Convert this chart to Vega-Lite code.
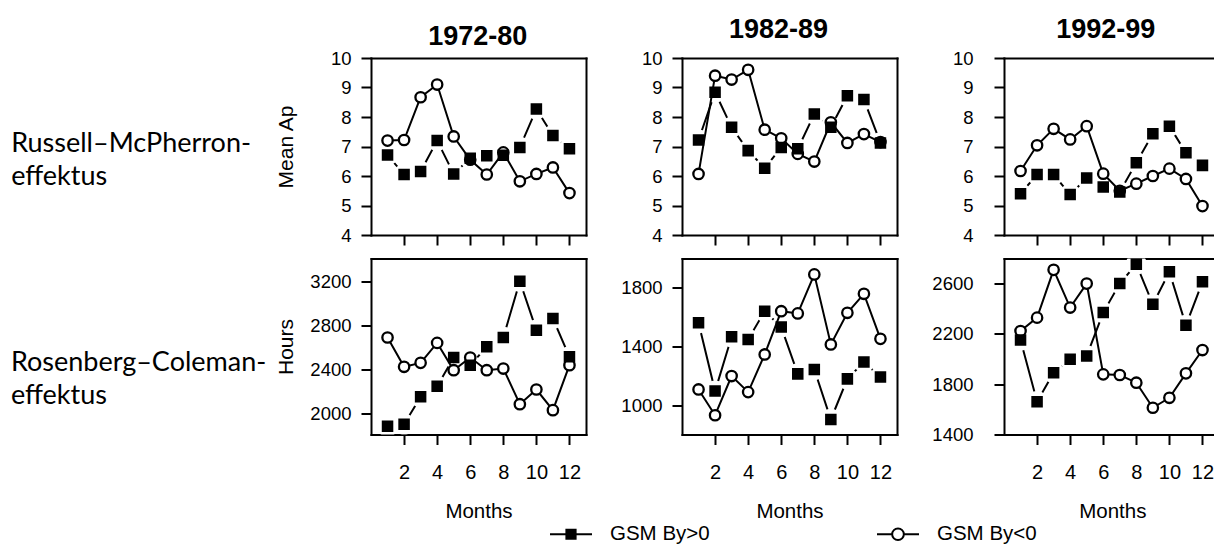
{
"$schema":"https://vega.github.io/schema/vega-lite/v6.json",
"background":"white",
"padding":{"left":10,"top":15,"right":0,"bottom":0},
"config":{
 "view":{"stroke":null},
 "font":"Liberation Sans",
 "axis":{"domainColor":"black","domainWidth":2,"domainCap":"square","tickColor":"black","tickWidth":2,"tickSize":10,"labelColor":"black","labelFont":"Liberation Sans","titleColor":"black","titleFont":"Liberation Sans","titleFontWeight":"normal","grid":false,"zindex":1,"labelFlush":false,"labelOverlap":false,"minExtent":0,"format":"d"},
 "legend":{"title":null,"orient":"none","legendX":189,"legendY":465,"direction":"horizontal","columns":2,"columnPadding":163,"labelOffset":28,"labelFont":"Liberation Sans","labelFontSize":20.5,"labelColor":"black","symbolSize":400,"symbolStrokeWidth":2,"padding":0}
},
"datasets":{
 "p11":[
  {"m":1,"v":7.2,"s":"GSM By<0"},{"m":2,"v":7.22,"s":"GSM By<0"},{"m":3,"v":8.67,"s":"GSM By<0"},{"m":4,"v":9.1,"s":"GSM By<0"},{"m":5,"v":7.34,"s":"GSM By<0"},{"m":6,"v":6.55,"s":"GSM By<0"},{"m":7,"v":6.05,"s":"GSM By<0"},{"m":8,"v":6.8,"s":"GSM By<0"},{"m":9,"v":5.82,"s":"GSM By<0"},{"m":10,"v":6.07,"s":"GSM By<0"},{"m":11,"v":6.29,"s":"GSM By<0"},{"m":12,"v":5.42,"s":"GSM By<0"},
  {"m":1,"v":6.71,"s":"GSM By>0"},{"m":2,"v":6.05,"s":"GSM By>0"},{"m":3,"v":6.15,"s":"GSM By>0"},{"m":4,"v":7.2,"s":"GSM By>0"},{"m":5,"v":6.07,"s":"GSM By>0"},{"m":6,"v":6.6,"s":"GSM By>0"},{"m":7,"v":6.69,"s":"GSM By>0"},{"m":8,"v":6.7,"s":"GSM By>0"},{"m":9,"v":6.97,"s":"GSM By>0"},{"m":10,"v":8.27,"s":"GSM By>0"},{"m":11,"v":7.37,"s":"GSM By>0"},{"m":12,"v":6.92,"s":"GSM By>0"}],
 "p12":[
  {"m":1,"v":6.07,"s":"GSM By<0"},{"m":2,"v":9.4,"s":"GSM By<0"},{"m":3,"v":9.27,"s":"GSM By<0"},{"m":4,"v":9.6,"s":"GSM By<0"},{"m":5,"v":7.57,"s":"GSM By<0"},{"m":6,"v":7.28,"s":"GSM By<0"},{"m":7,"v":6.75,"s":"GSM By<0"},{"m":8,"v":6.49,"s":"GSM By<0"},{"m":9,"v":7.82,"s":"GSM By<0"},{"m":10,"v":7.12,"s":"GSM By<0"},{"m":11,"v":7.42,"s":"GSM By<0"},{"m":12,"v":7.15,"s":"GSM By<0"},
  {"m":1,"v":7.22,"s":"GSM By>0"},{"m":2,"v":8.84,"s":"GSM By>0"},{"m":3,"v":7.65,"s":"GSM By>0"},{"m":4,"v":6.86,"s":"GSM By>0"},{"m":5,"v":6.26,"s":"GSM By>0"},{"m":6,"v":6.97,"s":"GSM By>0"},{"m":7,"v":6.92,"s":"GSM By>0"},{"m":8,"v":8.1,"s":"GSM By>0"},{"m":9,"v":7.65,"s":"GSM By>0"},{"m":10,"v":8.72,"s":"GSM By>0"},{"m":11,"v":8.59,"s":"GSM By>0"},{"m":12,"v":7.12,"s":"GSM By>0"}],
 "p13":[
  {"m":1,"v":6.17,"s":"GSM By<0"},{"m":2,"v":7.04,"s":"GSM By<0"},{"m":3,"v":7.6,"s":"GSM By<0"},{"m":4,"v":7.24,"s":"GSM By<0"},{"m":5,"v":7.69,"s":"GSM By<0"},{"m":6,"v":6.08,"s":"GSM By<0"},{"m":7,"v":5.5,"s":"GSM By<0"},{"m":8,"v":5.74,"s":"GSM By<0"},{"m":9,"v":6.0,"s":"GSM By<0"},{"m":10,"v":6.25,"s":"GSM By<0"},{"m":11,"v":5.9,"s":"GSM By<0"},{"m":12,"v":4.98,"s":"GSM By<0"},
  {"m":1,"v":5.4,"s":"GSM By>0"},{"m":2,"v":6.05,"s":"GSM By>0"},{"m":3,"v":6.05,"s":"GSM By>0"},{"m":4,"v":5.37,"s":"GSM By>0"},{"m":5,"v":5.93,"s":"GSM By>0"},{"m":6,"v":5.63,"s":"GSM By>0"},{"m":7,"v":5.46,"s":"GSM By>0"},{"m":8,"v":6.45,"s":"GSM By>0"},{"m":9,"v":7.43,"s":"GSM By>0"},{"m":10,"v":7.69,"s":"GSM By>0"},{"m":11,"v":6.79,"s":"GSM By>0"},{"m":12,"v":6.36,"s":"GSM By>0"}],
 "p21":[
  {"m":1,"v":2693,"s":"GSM By<0"},{"m":2,"v":2426,"s":"GSM By<0"},{"m":3,"v":2462,"s":"GSM By<0"},{"m":4,"v":2644,"s":"GSM By<0"},{"m":5,"v":2395,"s":"GSM By<0"},{"m":6,"v":2511,"s":"GSM By<0"},{"m":7,"v":2395,"s":"GSM By<0"},{"m":8,"v":2410,"s":"GSM By<0"},{"m":9,"v":2085,"s":"GSM By<0"},{"m":10,"v":2219,"s":"GSM By<0"},{"m":11,"v":2031,"s":"GSM By<0"},{"m":12,"v":2441,"s":"GSM By<0"},
  {"m":1,"v":1885,"s":"GSM By>0"},{"m":2,"v":1903,"s":"GSM By>0"},{"m":3,"v":2152,"s":"GSM By>0"},{"m":4,"v":2249,"s":"GSM By>0"},{"m":5,"v":2511,"s":"GSM By>0"},{"m":6,"v":2441,"s":"GSM By>0"},{"m":7,"v":2608,"s":"GSM By>0"},{"m":8,"v":2693,"s":"GSM By>0"},{"m":9,"v":3206,"s":"GSM By>0"},{"m":10,"v":2760,"s":"GSM By>0"},{"m":11,"v":2866,"s":"GSM By>0"},{"m":12,"v":2517,"s":"GSM By>0"}],
 "p22":[
  {"m":1,"v":1109,"s":"GSM By<0"},{"m":2,"v":934,"s":"GSM By<0"},{"m":3,"v":1200,"s":"GSM By<0"},{"m":4,"v":1091,"s":"GSM By<0"},{"m":5,"v":1347,"s":"GSM By<0"},{"m":6,"v":1641,"s":"GSM By<0"},{"m":7,"v":1626,"s":"GSM By<0"},{"m":8,"v":1891,"s":"GSM By<0"},{"m":9,"v":1415,"s":"GSM By<0"},{"m":10,"v":1630,"s":"GSM By<0"},{"m":11,"v":1759,"s":"GSM By<0"},{"m":12,"v":1453,"s":"GSM By<0"},
  {"m":1,"v":1562,"s":"GSM By>0"},{"m":2,"v":1098,"s":"GSM By>0"},{"m":3,"v":1467,"s":"GSM By>0"},{"m":4,"v":1449,"s":"GSM By>0"},{"m":5,"v":1641,"s":"GSM By>0"},{"m":6,"v":1533,"s":"GSM By>0"},{"m":7,"v":1215,"s":"GSM By>0"},{"m":8,"v":1245,"s":"GSM By>0"},{"m":9,"v":905,"s":"GSM By>0"},{"m":10,"v":1181,"s":"GSM By>0"},{"m":11,"v":1295,"s":"GSM By>0"},{"m":12,"v":1193,"s":"GSM By>0"}],
 "p23":[
  {"m":1,"v":2221,"s":"GSM By<0"},{"m":2,"v":2327,"s":"GSM By<0"},{"m":3,"v":2706,"s":"GSM By<0"},{"m":4,"v":2407,"s":"GSM By<0"},{"m":5,"v":2597,"s":"GSM By<0"},{"m":6,"v":1877,"s":"GSM By<0"},{"m":7,"v":1872,"s":"GSM By<0"},{"m":8,"v":1811,"s":"GSM By<0"},{"m":9,"v":1612,"s":"GSM By<0"},{"m":10,"v":1691,"s":"GSM By<0"},{"m":11,"v":1885,"s":"GSM By<0"},{"m":12,"v":2070,"s":"GSM By<0"},
  {"m":1,"v":2150,"s":"GSM By>0"},{"m":2,"v":1660,"s":"GSM By>0"},{"m":3,"v":1890,"s":"GSM By>0"},{"m":4,"v":1996,"s":"GSM By>0"},{"m":5,"v":2023,"s":"GSM By>0"},{"m":6,"v":2367,"s":"GSM By>0"},{"m":7,"v":2597,"s":"GSM By>0"},{"m":8,"v":2751,"s":"GSM By>0"},{"m":9,"v":2433,"s":"GSM By>0"},{"m":10,"v":2690,"s":"GSM By>0"},{"m":11,"v":2266,"s":"GSM By>0"},{"m":12,"v":2611,"s":"GSM By>0"}]
},
"columns":3,
"align":"each",
"bounds":"full",
"spacing":{"row":8.5,"column":34},
"concat":[
 {"data":{"name":"p11"},"width":215,"height":177,
  "title":{"text":["Russell–McPherron-","effektus"],"orient":"left","angle":0,"align":"left","baseline":"middle","anchor":"middle","frame":"group","offset":24.3,"font":"Lato","fontSize":27,"fontWeight":"normal","lineHeight":33,"dy":-2.5,"color":"black"},
  "layer":[
   {"transform":[{"filter":"datum.s === 'GSM By>0'"}],"mark":{"type":"line","color":"black","strokeWidth":2},
    "encoding":{"x":{"field":"m","type":"quantitative","scale":{"domain":[0,13],"nice":false,"zero":false},"axis":{"orient":"bottom","values":[2,4,6,8,10,12],"labels":false,"title":null}},
     "y":{"field":"v","type":"quantitative","scale":{"domain":[4,10],"nice":false,"zero":false},"axis":{"orient":"left","values":[4,5,6,7,8,9,10],"labelFontSize":18.5,"labelPadding":10,"title":"Mean Ap","titleFontSize":21,"titlePadding":34.7,"minExtent":40,"maxExtent":40}}}},
   {"transform":[{"filter":"datum.s === 'GSM By>0'"}],"mark":{"type":"point","shape":"circle","filled":true,"color":"white","opacity":1,"size":452,"clip":true},
    "encoding":{"x":{"field":"m","type":"quantitative","axis":{"orient":"top","ticks":false,"labels":false,"title":"1972-80","titleFont":"Liberation Sans","titleFontSize":27,"titleFontWeight":"bold","titleX":106.3,"titleY":-14,"titleAlign":"center","titleBaseline":"alphabetic"}},
     "y":{"field":"v","type":"quantitative","axis":{"orient":"right","ticks":false,"labels":false,"title":null}}}},
   {"transform":[{"filter":"datum.s === 'GSM By<0'"}],"mark":{"type":"line","color":"black","strokeWidth":2},
    "encoding":{"x":{"field":"m","type":"quantitative","axis":null},"y":{"field":"v","type":"quantitative","axis":null}}},
   {"transform":[{"filter":"datum.s === 'GSM By<0'"}],"mark":{"type":"point","shape":"circle","filled":true,"fill":"white","stroke":"black","strokeWidth":2.3,"size":108,"opacity":1},
    "encoding":{"x":{"field":"m","type":"quantitative","axis":null},"y":{"field":"v","type":"quantitative","axis":null}}},
   {"transform":[{"filter":"datum.s === 'GSM By>0'"}],"mark":{"type":"point","shape":"square","filled":true,"fill":"black","stroke":"black","strokeWidth":2.3,"size":85,"opacity":1},
    "encoding":{"x":{"field":"m","type":"quantitative","axis":null},"y":{"field":"v","type":"quantitative","axis":null}}},
   {"transform":[{"filter":"false"}],"mark":{"type":"point","filled":true,"stroke":"black","strokeWidth":2,"opacity":1},
    "encoding":{"x":{"field":"m","type":"quantitative","axis":null},"y":{"field":"v","type":"quantitative","axis":null},
     "shape":{"field":"s","type":"nominal","scale":{"domain":["GSM By>0","GSM By<0"],"range":["M-2.1,0H2.1M-0.46,-0.46H0.46V0.46H-0.46Z","M-2.1,0H-0.585M0.585,0H2.1M-0.585,0A0.585,0.585,0,1,0,0.585,0A0.585,0.585,0,1,0,-0.585,0Z"]},"legend":{"encode":{"symbols":{"stroke":{"value":"black"},"strokeWidth":{"value":2},"opacity":{"value":1}}}}},
     "fill":{"field":"s","type":"nominal","scale":{"domain":["GSM By>0","GSM By<0"],"range":["black","white"]},"legend":{"encode":{"symbols":{"stroke":{"value":"black"},"strokeWidth":{"value":2},"opacity":{"value":1}}}}}}}
  ],
  "resolve":{"axis":{"x":"independent","y":"independent"}}},
 {"data":{"name":"p12"},"width":215,"height":177,
  "layer":[
   {"transform":[{"filter":"datum.s === 'GSM By>0'"}],"mark":{"type":"line","color":"black","strokeWidth":2},
    "encoding":{"x":{"field":"m","type":"quantitative","scale":{"domain":[0,13],"nice":false,"zero":false},"axis":{"orient":"bottom","values":[2,4,6,8,10,12],"labels":false,"title":null}},
     "y":{"field":"v","type":"quantitative","scale":{"domain":[4,10],"nice":false,"zero":false},"axis":{"orient":"left","values":[4,5,6,7,8,9,10],"labelFontSize":18.5,"labelPadding":10,"title":null}}}},
   {"transform":[{"filter":"datum.s === 'GSM By>0'"}],"mark":{"type":"point","shape":"circle","filled":true,"color":"white","opacity":1,"size":452,"clip":true},
    "encoding":{"x":{"field":"m","type":"quantitative","axis":{"orient":"top","ticks":false,"labels":false,"title":"1982-89","titleFont":"Liberation Sans","titleFontSize":27,"titleFontWeight":"bold","titleX":96,"titleY":-21,"titleAlign":"center","titleBaseline":"alphabetic"}},
     "y":{"field":"v","type":"quantitative","axis":{"orient":"right","ticks":false,"labels":false,"title":null}}}},
   {"transform":[{"filter":"datum.s === 'GSM By<0'"}],"mark":{"type":"line","color":"black","strokeWidth":2},
    "encoding":{"x":{"field":"m","type":"quantitative","axis":null},"y":{"field":"v","type":"quantitative","axis":null}}},
   {"transform":[{"filter":"datum.s === 'GSM By<0'"}],"mark":{"type":"point","shape":"circle","filled":true,"fill":"white","stroke":"black","strokeWidth":2.3,"size":108,"opacity":1},
    "encoding":{"x":{"field":"m","type":"quantitative","axis":null},"y":{"field":"v","type":"quantitative","axis":null}}},
   {"transform":[{"filter":"datum.s === 'GSM By>0'"}],"mark":{"type":"point","shape":"square","filled":true,"fill":"black","stroke":"black","strokeWidth":2.3,"size":85,"opacity":1},
    "encoding":{"x":{"field":"m","type":"quantitative","axis":null},"y":{"field":"v","type":"quantitative","axis":null}}}
  ],
  "resolve":{"axis":{"x":"independent","y":"independent"}}},
 {"data":{"name":"p13"},"width":209,"height":177,
  "layer":[
   {"transform":[{"filter":"datum.s === 'GSM By>0'"}],"mark":{"type":"line","color":"black","strokeWidth":2},
    "encoding":{"x":{"field":"m","type":"quantitative","scale":{"domain":[0,12.636],"nice":false,"zero":false},"axis":{"orient":"bottom","values":[2,4,6,8,10,12],"labels":false,"title":null}},
     "y":{"field":"v","type":"quantitative","scale":{"domain":[4,10],"nice":false,"zero":false},"axis":{"orient":"left","values":[4,5,6,7,8,9,10],"labelFontSize":18.5,"labelPadding":21,"title":null}}}},
   {"transform":[{"filter":"datum.s === 'GSM By>0'"}],"mark":{"type":"point","shape":"circle","filled":true,"color":"white","opacity":1,"size":452,"clip":true},
    "encoding":{"x":{"field":"m","type":"quantitative","axis":{"orient":"top","ticks":false,"labels":false,"title":"1992-99","titleFont":"Liberation Sans","titleFontSize":27,"titleFontWeight":"bold","titleX":101.3,"titleY":-21,"titleAlign":"center","titleBaseline":"alphabetic"}},
     "y":{"field":"v","type":"quantitative","axis":null}}},
   {"transform":[{"filter":"datum.s === 'GSM By<0'"}],"mark":{"type":"line","color":"black","strokeWidth":2},
    "encoding":{"x":{"field":"m","type":"quantitative","axis":null},"y":{"field":"v","type":"quantitative","axis":null}}},
   {"transform":[{"filter":"datum.s === 'GSM By<0'"}],"mark":{"type":"point","shape":"circle","filled":true,"fill":"white","stroke":"black","strokeWidth":2.3,"size":108,"opacity":1},
    "encoding":{"x":{"field":"m","type":"quantitative","axis":null},"y":{"field":"v","type":"quantitative","axis":null}}},
   {"transform":[{"filter":"datum.s === 'GSM By>0'"}],"mark":{"type":"point","shape":"square","filled":true,"fill":"black","stroke":"black","strokeWidth":2.3,"size":85,"opacity":1},
    "encoding":{"x":{"field":"m","type":"quantitative","axis":null},"y":{"field":"v","type":"quantitative","axis":null}}}
  ],
  "resolve":{"axis":{"x":"independent","y":"independent"}}},
 {"data":{"name":"p21"},"width":215,"height":176,
  "title":{"text":["Rosenberg–Coleman-","effektus"],"orient":"left","angle":0,"align":"left","baseline":"middle","anchor":"middle","frame":"group","offset":9,"font":"Lato","fontSize":27,"fontWeight":"normal","lineHeight":33,"dy":16,"color":"black"},
  "layer":[
   {"transform":[{"filter":"datum.s === 'GSM By>0'"}],"mark":{"type":"line","color":"black","strokeWidth":2},
    "encoding":{"x":{"field":"m","type":"quantitative","scale":{"domain":[0,13],"nice":false,"zero":false},"axis":{"orient":"bottom","values":[2,4,6,8,10,12],"labels":true,"labelFontSize":20,"labelPadding":17.5,"title":"Months","titleFontSize":20.5,"titlePadding":21.5,"minExtent":45,"maxExtent":45}},
     "y":{"field":"v","type":"quantitative","scale":{"domain":[1809,3413],"nice":false,"zero":false},"axis":{"orient":"left","values":[2000,2400,2800,3200],"labelFontSize":18.5,"labelPadding":10,"title":"Hours","titleFontSize":21,"titlePadding":34.7,"minExtent":40,"maxExtent":40}}}},
   {"transform":[{"filter":"datum.s === 'GSM By>0'"}],"mark":{"type":"point","shape":"circle","filled":true,"color":"white","opacity":1,"size":452,"clip":true},
    "encoding":{"x":{"field":"m","type":"quantitative","axis":{"orient":"top","ticks":false,"labels":false,"title":null}},
     "y":{"field":"v","type":"quantitative","axis":{"orient":"right","ticks":false,"labels":false,"title":null}}}},
   {"transform":[{"filter":"datum.s === 'GSM By<0'"}],"mark":{"type":"line","color":"black","strokeWidth":2},
    "encoding":{"x":{"field":"m","type":"quantitative","axis":null},"y":{"field":"v","type":"quantitative","axis":null}}},
   {"transform":[{"filter":"datum.s === 'GSM By<0'"}],"mark":{"type":"point","shape":"circle","filled":true,"fill":"white","stroke":"black","strokeWidth":2.3,"size":108,"opacity":1},
    "encoding":{"x":{"field":"m","type":"quantitative","axis":null},"y":{"field":"v","type":"quantitative","axis":null}}},
   {"transform":[{"filter":"datum.s === 'GSM By>0'"}],"mark":{"type":"point","shape":"square","filled":true,"fill":"black","stroke":"black","strokeWidth":2.3,"size":85,"opacity":1},
    "encoding":{"x":{"field":"m","type":"quantitative","axis":null},"y":{"field":"v","type":"quantitative","axis":null}}}
  ],
  "resolve":{"axis":{"x":"independent","y":"independent"}}},
 {"data":{"name":"p22"},"width":215,"height":176,
  "layer":[
   {"transform":[{"filter":"datum.s === 'GSM By>0'"}],"mark":{"type":"line","color":"black","strokeWidth":2},
    "encoding":{"x":{"field":"m","type":"quantitative","scale":{"domain":[0,13],"nice":false,"zero":false},"axis":{"orient":"bottom","values":[2,4,6,8,10,12],"labels":true,"labelFontSize":20,"labelPadding":17.5,"title":"Months","titleFontSize":20.5,"titlePadding":21.5,"minExtent":45,"maxExtent":45}},
     "y":{"field":"v","type":"quantitative","scale":{"domain":[803,1999],"nice":false,"zero":false},"axis":{"orient":"left","values":[1000,1400,1800],"labelFontSize":18.5,"labelPadding":10,"title":null}}}},
   {"transform":[{"filter":"datum.s === 'GSM By>0'"}],"mark":{"type":"point","shape":"circle","filled":true,"color":"white","opacity":1,"size":452,"clip":true},
    "encoding":{"x":{"field":"m","type":"quantitative","axis":{"orient":"top","ticks":false,"labels":false,"title":null}},
     "y":{"field":"v","type":"quantitative","axis":{"orient":"right","ticks":false,"labels":false,"title":null}}}},
   {"transform":[{"filter":"datum.s === 'GSM By<0'"}],"mark":{"type":"line","color":"black","strokeWidth":2},
    "encoding":{"x":{"field":"m","type":"quantitative","axis":null},"y":{"field":"v","type":"quantitative","axis":null}}},
   {"transform":[{"filter":"datum.s === 'GSM By<0'"}],"mark":{"type":"point","shape":"circle","filled":true,"fill":"white","stroke":"black","strokeWidth":2.3,"size":108,"opacity":1},
    "encoding":{"x":{"field":"m","type":"quantitative","axis":null},"y":{"field":"v","type":"quantitative","axis":null}}},
   {"transform":[{"filter":"datum.s === 'GSM By>0'"}],"mark":{"type":"point","shape":"square","filled":true,"fill":"black","stroke":"black","strokeWidth":2.3,"size":85,"opacity":1},
    "encoding":{"x":{"field":"m","type":"quantitative","axis":null},"y":{"field":"v","type":"quantitative","axis":null}}}
  ],
  "resolve":{"axis":{"x":"independent","y":"independent"}}},
 {"data":{"name":"p23"},"width":209,"height":176,
  "layer":[
   {"transform":[{"filter":"datum.s === 'GSM By>0'"}],"mark":{"type":"line","color":"black","strokeWidth":2},
    "encoding":{"x":{"field":"m","type":"quantitative","scale":{"domain":[0,12.636],"nice":false,"zero":false},"axis":{"orient":"bottom","values":[2,4,6,8,10,12],"labels":true,"labelFontSize":20,"labelPadding":17.5,"title":"Months","titleFontSize":20.5,"titlePadding":21.5,"titleX":108.3,"minExtent":45,"maxExtent":45}},
     "y":{"field":"v","type":"quantitative","scale":{"domain":[1400,2796],"nice":false,"zero":false},"axis":{"orient":"left","values":[1400,1800,2200,2600],"labelFontSize":18.5,"labelPadding":21,"title":null}}}},
   {"transform":[{"filter":"datum.s === 'GSM By>0'"}],"mark":{"type":"point","shape":"circle","filled":true,"color":"white","opacity":1,"size":452,"clip":true},
    "encoding":{"x":{"field":"m","type":"quantitative","axis":{"orient":"top","ticks":false,"labels":false,"title":null}},
     "y":{"field":"v","type":"quantitative","axis":null}}},
   {"transform":[{"filter":"datum.s === 'GSM By<0'"}],"mark":{"type":"line","color":"black","strokeWidth":2},
    "encoding":{"x":{"field":"m","type":"quantitative","axis":null},"y":{"field":"v","type":"quantitative","axis":null}}},
   {"transform":[{"filter":"datum.s === 'GSM By<0'"}],"mark":{"type":"point","shape":"circle","filled":true,"fill":"white","stroke":"black","strokeWidth":2.3,"size":108,"opacity":1},
    "encoding":{"x":{"field":"m","type":"quantitative","axis":null},"y":{"field":"v","type":"quantitative","axis":null}}},
   {"transform":[{"filter":"datum.s === 'GSM By>0'"}],"mark":{"type":"point","shape":"square","filled":true,"fill":"black","stroke":"black","strokeWidth":2.3,"size":85,"opacity":1},
    "encoding":{"x":{"field":"m","type":"quantitative","axis":null},"y":{"field":"v","type":"quantitative","axis":null}}}
  ],
  "resolve":{"axis":{"x":"independent","y":"independent"}}}
]
}
